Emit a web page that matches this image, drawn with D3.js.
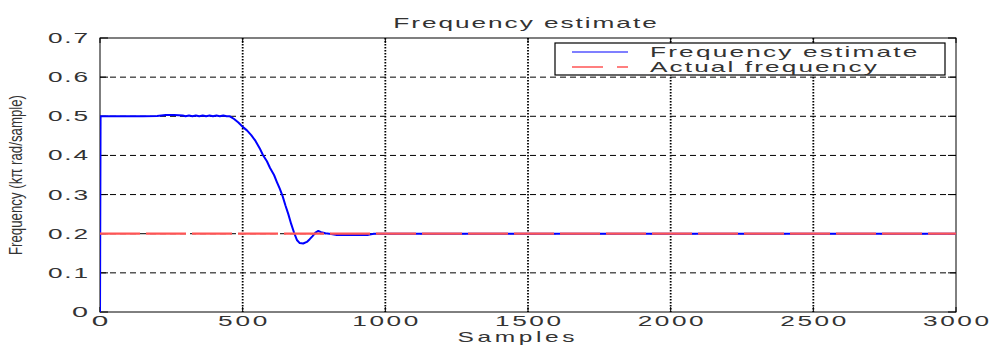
<!DOCTYPE html>
<html><head><meta charset="utf-8">
<script src="https://cdn.jsdelivr.net/npm/d3@7"></script>
<style>
html,body{margin:0;padding:0;background:#fff;}
svg{display:block;font-family:"Liberation Sans",Arial,sans-serif;}
</style></head>
<body>
<svg id="chart" width="994" height="345"></svg>
<script>
// ---- data ----
const titleText = "Frequency estimate";
const xLabel = "Samples";
const yLabel = "Frequency (kπ rad/sample)";
const legendLabels = ["Frequency estimate", "Actual frequency"];
const xTicks = [0, 500, 1000, 1500, 2000, 2500, 3000];
const yTicks = [0, 0.1, 0.2, 0.3, 0.4, 0.5, 0.6, 0.7];
const yTickLabels = ["0", "0.1", "0.2", "0.3", "0.4", "0.5", "0.6", "0.7"];
const samples = [0, 2, 50, 100, 150, 200, 230, 260, 290, 300, 312, 324, 336, 348, 360, 372, 384, 396, 408, 420, 432, 444, 455,
  470, 485, 500, 515, 530, 545, 560, 571, 585, 596, 610, 620, 630, 640, 650, 660, 670, 680, 690, 700, 712, 725, 735, 745, 755,
  765, 775, 790, 810, 830, 940, 960, 3000];
const estimate = [0, 0.5, 0.5, 0.5, 0.5, 0.501, 0.503, 0.503, 0.502, 0.5, 0.502, 0.5, 0.502, 0.5, 0.502, 0.5, 0.502, 0.5, 0.502, 0.5, 0.502, 0.5, 0.5,
  0.493, 0.484, 0.473, 0.464, 0.452, 0.437, 0.418, 0.401, 0.385, 0.368, 0.35, 0.332, 0.315, 0.296, 0.272, 0.25, 0.225, 0.203, 0.184, 0.176, 0.175, 0.179, 0.186, 0.194, 0.203,
  0.207, 0.204, 0.201, 0.199, 0.197, 0.197, 0.2, 0.2];
const actualSamples = [0, 3000];
const actualFreq = [0.2, 0.2];

// ---- layout ----
const svg = d3.select("#chart");
const L = 100, R = 956, T = 38, B = 312;
const x = d3.scaleLinear().domain([0, 3000]).range([L, R]);
const y = d3.scaleLinear().domain([0, 0.7]).range([B, T]);
const txtCol = "#333";

svg.append("defs").append("clipPath").attr("id", "clip")
  .append("rect").attr("x", L).attr("y", T).attr("width", R - L).attr("height", B - T);

// grid
const grid = svg.append("g");
grid.selectAll("line.h").data(yTicks.slice(1, -1)).join("line")
  .attr("x1", L).attr("x2", R).attr("y1", d => y(d)).attr("y2", d => y(d))
  .attr("stroke", "#000").attr("stroke-width", 1).attr("stroke-dasharray", "6,4");
grid.selectAll("line.v").data(xTicks.slice(1, -1)).join("line")
  .attr("y1", T).attr("y2", B).attr("x1", d => x(d)).attr("x2", d => x(d))
  .attr("stroke", "#000").attr("stroke-width", 1.8).attr("stroke-dasharray", "1.6,1.4");

// axes box + ticks
const ax = svg.append("g").attr("stroke", "#000").attr("stroke-width", 1);
ax.append("rect").attr("x", L).attr("y", T).attr("width", R - L).attr("height", B - T).attr("fill", "none");
xTicks.forEach(t => {
  ax.append("line").attr("x1", x(t)).attr("x2", x(t)).attr("y1", B).attr("y2", B - 5);
  ax.append("line").attr("x1", x(t)).attr("x2", x(t)).attr("y1", T).attr("y2", T + 5);
});
yTicks.forEach(t => {
  ax.append("line").attr("x1", L).attr("x2", L + 8).attr("y1", y(t)).attr("y2", y(t));
  ax.append("line").attr("x1", R).attr("x2", R - 8).attr("y1", y(t)).attr("y2", y(t));
});

// lines
const line = d3.line().x(d => x(d[0])).y(d => y(d[1]));
const plot = svg.append("g").attr("clip-path", "url(#clip)");
plot.append("path").datum(samples.map((s, i) => [s, estimate[i]]))
  .attr("d", line).attr("fill", "none").attr("stroke", "#0000ff").attr("stroke-width", 2)
  .attr("stroke-linejoin", "round");
plot.append("path").datum(actualSamples.map((s, i) => [s, actualFreq[i]]))
  .attr("d", line).attr("fill", "none").attr("stroke", "#ff5555").attr("stroke-width", 2.2)
  .attr("stroke-dasharray", "40,6");

// wide text: glyph stretch + a little extra letter spacing
const S0 = 1.75;
function stext(g, xx, yy, str, size, anchor, sx) {
  const t = g.append("text").attr("text-anchor", anchor).attr("font-size", size)
    .attr("fill", txtCol).text(str);
  const w = t.node().getComputedTextLength();
  if (str.length > 1) {
    t.attr("transform", `translate(${xx},${yy}) scale(${S0},1)`)
     .attr("textLength", w * sx / S0).attr("lengthAdjust", "spacing");
  } else {
    t.attr("transform", `translate(${xx},${yy}) scale(${sx},1)`);
  }
  return t;
}
const lab = svg.append("g");
xTicks.forEach(t => stext(lab, x(t), 326, String(t), 15, "middle", 1.98));
yTicks.forEach((t, i) => stext(lab, 88, y(t) + 5, yTickLabels[i], 15, "end", 1.92));

// title and axis labels
stext(lab, 525, 28, titleText, 15, "middle", 2.0);
stext(lab, 516, 342, xLabel, 14, "middle", 2.15);
lab.append("text").attr("transform", "translate(22,175) rotate(-90)")
  .attr("text-anchor", "middle").attr("font-size", 18).attr("fill", txtCol)
  .attr("textLength", 160).attr("lengthAdjust", "spacingAndGlyphs").text(yLabel);

// legend
const lg = svg.append("g");
lg.append("rect").attr("x", 555).attr("y", 43).attr("width", 390).attr("height", 32)
  .attr("fill", "#fff").attr("stroke", "#000").attr("stroke-width", 1.2);
lg.append("line").attr("x1", 572).attr("x2", 628).attr("y1", 52).attr("y2", 52)
  .attr("stroke", "#0000ff").attr("stroke-width", 1.2);
lg.append("line").attr("x1", 572).attr("x2", 628).attr("y1", 67).attr("y2", 67)
  .attr("stroke", "#ff5555").attr("stroke-width", 1.4).attr("stroke-dasharray", "31,14");
stext(lg, 650, 57, legendLabels[0], 15, "start", 2.03);
stext(lg, 650, 72, legendLabels[1], 15, "start", 2.03);
</script>
</body></html>
